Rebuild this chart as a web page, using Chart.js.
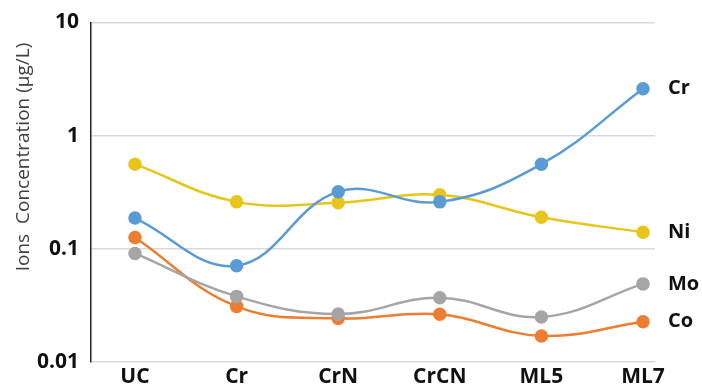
<!DOCTYPE html>
<html>
<head>
<meta charset="utf-8">
<script src="https://cdn.jsdelivr.net/npm/chart.js@4"></script>
<style>
    html, body { margin: 0; padding: 0; background: #fff; }
    #wrap { width: 702px; height: 390px; position: relative; }
</style>
</head>
<body>
<div id="wrap"><canvas id="grafico"></canvas></div>
<script>
// amostras e concentracoes (µg/L)
const amostras = ['UC', 'Cr', 'CrN', 'CrCN', 'ML5', 'ML7']
const cr = [0.187, 0.071, 0.32, 0.26, 0.56, 2.6]
const ni = [0.56, 0.26, 0.255, 0.30, 0.19, 0.14]
const mo = [0.091, 0.038, 0.0265, 0.037, 0.025, 0.049]
const co = [0.126, 0.031, 0.0243, 0.0264, 0.017, 0.0227]
const ticksY = [0.01, 0.1, 1, 10]

const fonte = "'Open Sans', 'Liberation Sans', sans-serif"

function serie(nome, valores, cor) {
    return {
        label: nome,
        data: valores.map((v, i) => ({ x: i, y: v })),
        borderColor: cor,
        backgroundColor: cor,
        borderWidth: 2.5,
        pointRadius: 5.5,
        pointHoverRadius: 5.5,
        tension: 0.4,
        cubicInterpolationMode: 'default'
    }
}

// nome do ion ao lado do ultimo ponto + titulo do eixo y
const rotulos = {
    id: 'rotulos',
    afterDraw(chart) {
        const c = chart.ctx
        c.save()
        c.font = 'bold 20px ' + fonte
        c.fillStyle = '#111'
        c.textAlign = 'left'
        c.textBaseline = 'middle'
        chart.data.datasets.forEach((ds, i) => {
            const pts = chart.getDatasetMeta(i).data
            const p = pts[pts.length - 1]
            c.fillText(ds.label, p.x + 25, p.y)
        })
        c.translate(24, 157)
        c.rotate(-Math.PI / 2)
        c.font = '19px ' + fonte
        c.fillStyle = '#404040'
        c.textAlign = 'center'
        c.fillText('Ions  Concentration (µg/L)', 0, 0)
        c.restore()
    }
}

new Chart(document.getElementById('grafico'), {
    type: 'line',
    data: {
        datasets: [
            serie('Cr', cr, '#5b9bd5'),
            serie('Ni', ni, '#e8c51c'),
            serie('Mo', mo, '#a5a5a5'),
            serie('Co', co, '#ed7d31')
        ]
    },
    options: {
        responsive: true,
        maintainAspectRatio: false,
        animation: false,
        layout: { padding: { left: 0, right: 47, top: 10, bottom: 0 } },
        plugins: { legend: { display: false }, tooltip: { enabled: false } },
        scales: {
            x: {
                type: 'linear',
                min: -0.433,
                max: 5.118,
                afterBuildTicks: axis => { axis.ticks = amostras.map((a, i) => ({ value: i })) },
                ticks: {
                    callback: v => amostras[v],
                    font: { family: fonte, size: 21, weight: 'bold' },
                    color: '#111',
                    padding: 2,
                    maxRotation: 0
                },
                grid: { display: false, drawTicks: false },
                border: { display: false },
                afterFit: axis => { axis.height = 28 }
            },
            y: {
                type: 'logarithmic',
                min: 0.01,
                max: 10,
                afterBuildTicks: axis => { axis.ticks = ticksY.map(v => ({ value: v })) },
                ticks: {
                    callback: v => String(v),
                    font: { family: fonte, size: 21, weight: 'bold', lineHeight: 1 },
                    color: '#111',
                    padding: 12
                },
                grid: { color: '#d9d9d9', lineWidth: 1.5, drawTicks: false },
                border: { color: '#222', width: 1.5 },
                afterFit: axis => { axis.width = 91 }
            }
        }
    },
    plugins: [rotulos]
})
</script>
</body>
</html>
